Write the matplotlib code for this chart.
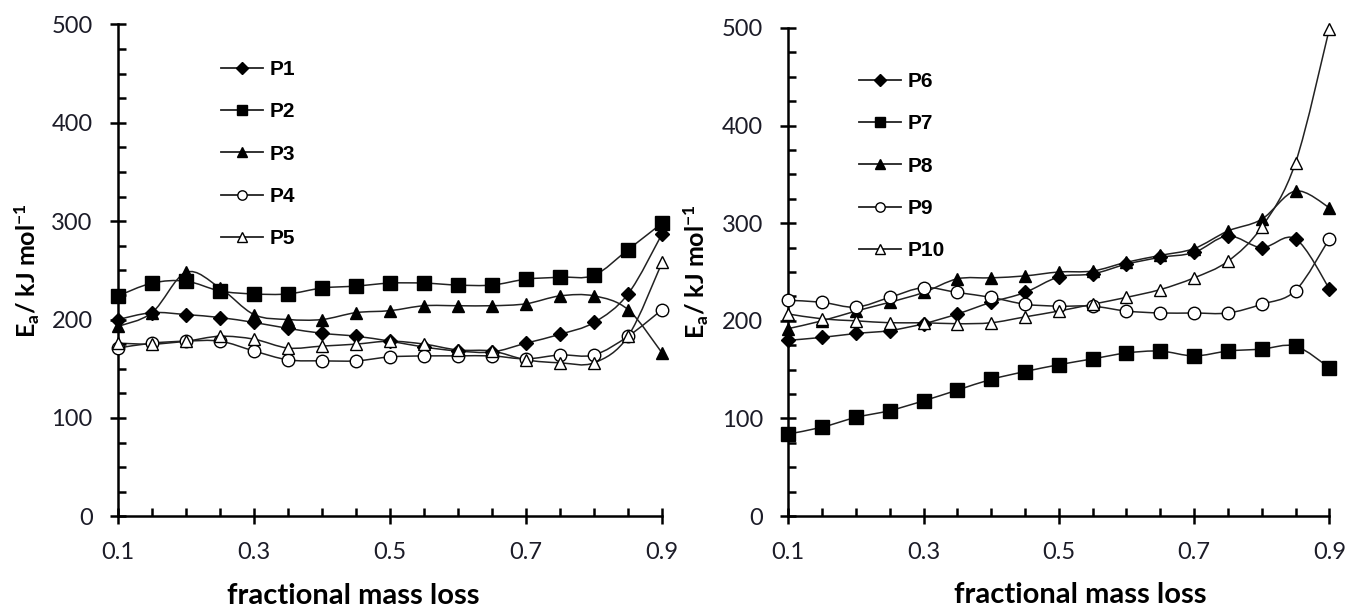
import numpy as np
import matplotlib
matplotlib.use("Agg")
import matplotlib.pyplot as plt
import matplotlib.ticker as mtick
from matplotlib.path import Path
from matplotlib.patches import PathPatch
from matplotlib.lines import Line2D

# fractional mass loss
alpha = [0.10, 0.15, 0.20, 0.25, 0.30, 0.35, 0.40, 0.45, 0.50,
         0.55, 0.60, 0.65, 0.70, 0.75, 0.80, 0.85, 0.90]

# Ea / kJ mol-1, left panel
p1 = [200, 207, 205, 202, 197, 191, 186, 183, 178, 172, 168, 167, 176, 185, 197, 226, 287]
p2 = [224, 237, 239, 229, 226, 226, 232, 234, 237, 237, 235, 235, 241, 243, 245, 271, 298]
p3 = [193, 207, 248, 232, 205, 200, 200, 207, 209, 214, 214, 214, 216, 224, 224, 210, 166]
p4 = [171, 176, 178, 178, 168, 159, 158, 158, 162, 163, 163, 163, 160, 164, 164, 183, 210]
p5 = [176, 175, 178, 183, 180, 171, 173, 175, 178, 175, 169, 168, 159, 156, 156, 183, 258]

# right panel
p6 = [180, 183, 187, 190, 197, 207, 219, 229, 245, 248, 258, 265, 270, 287, 275, 284, 233]
p7 = [84, 91, 101, 108, 118, 129, 140, 148, 155, 161, 167, 169, 164, 169, 171, 174, 152]
p8 = [192, 200, 210, 219, 229, 243, 244, 246, 250, 251, 260, 267, 274, 292, 304, 333, 316]
p9 = [221, 219, 214, 224, 234, 229, 224, 217, 215, 215, 210, 208, 208, 208, 217, 231, 284]
p10 = [207, 202, 200, 198, 198, 197, 198, 204, 210, 217, 224, 232, 244, 261, 296, 362, 499]

left_labels = ["P1", "P2", "P3", "P4", "P5"]
right_labels = ["P6", "P7", "P8", "P9", "P10"]

# marker, face colour, size
styles = [("D", "black", 7.5), ("s", "black", 9.5), ("^", "black", 9),
          ("o", "white", 9), ("^", "white", 9)]

line_col = "#222222"
tick_col = "#1c1c28"


def smooth_path(x, y, t=1 / 6):
    # excel style smoothed line as cubic bezier segments
    pts = np.column_stack([x, y]).astype(float)
    n = len(pts)
    verts = [pts[0]]
    codes = [Path.MOVETO]
    for i in range(n - 1):
        p0 = pts[i - 1] if i > 0 else pts[i]
        p1 = pts[i]
        p2 = pts[i + 1]
        p3 = pts[i + 2] if i + 2 < n else pts[i + 1]
        c1 = p1 + (p2 - p0) * t
        c2 = p2 - (p3 - p1) * t
        verts += [c1, c2, p2]
        codes += [Path.CURVE4] * 3
    return Path(verts, codes)


def draw_panel(ax, series, labels, leg_anchor, xlab_pos, ylab_x):
    handles = []
    for vals, (mk, fc, ms) in zip(series, styles):
        ax.add_patch(PathPatch(smooth_path(alpha, vals), fill=False,
                               ec=line_col, lw=1.1, clip_on=False))
        ax.plot(alpha, vals, linestyle="none", marker=mk, ms=ms, mfc=fc,
                mec="black", mew=1.0, clip_on=False, zorder=3)
        handles.append(Line2D([], [], color=line_col, lw=1.3, marker=mk,
                              ms=ms * 0.75, mfc=fc, mec="black", mew=1.0))

    ax.set_xlim(0.1, 0.9)
    ax.set_ylim(0, 500)
    ax.xaxis.set_major_locator(mtick.FixedLocator([0.1, 0.3, 0.5, 0.7, 0.9]))
    ax.xaxis.set_minor_locator(mtick.MultipleLocator(0.05))
    ax.xaxis.set_major_formatter(mtick.FormatStrFormatter("%.1f"))
    ax.yaxis.set_major_locator(mtick.MultipleLocator(100))
    ax.yaxis.set_minor_locator(mtick.MultipleLocator(25))

    for s in ["top", "right"]:
        ax.spines[s].set_visible(False)
    for s in ["left", "bottom"]:
        ax.spines[s].set_linewidth(1.8)
        ax.spines[s].set_color("black")

    ax.tick_params(which="major", direction="inout", length=11.5, width=1.8,
                   labelsize=17, labelcolor=tick_col)
    ax.tick_params(which="minor", direction="in", length=5.5, width=1.8)
    ax.tick_params(axis="y", which="major", pad=12.5)
    ax.tick_params(axis="x", which="major", pad=13)
    for lab in ax.get_xticklabels() + ax.get_yticklabels():
        lab.set_fontfamily("Lato")

    ax.set_xlabel("fractional mass loss", fontsize=21, fontweight="bold",
                  fontfamily="Lato", color="black")
    ax.xaxis.set_label_coords(xlab_pos, -0.135)
    ax.xaxis.label.set_va("top")
    ax.set_ylabel(r"E$_\mathbf{a}$/ kJ mol$^\mathbf{-1}$", fontsize=18,
                  fontweight="bold", fontfamily="Lato", color="black")
    ax.yaxis.set_label_coords(ylab_x, 0.5)

    ax.legend(handles, labels, loc="upper left", bbox_to_anchor=leg_anchor,
              bbox_transform=ax.figure.transFigure, frameon=False,
              prop={"family": "Liberation Sans", "weight": "bold", "size": 15},
              handlelength=2.0, handletextpad=0.35, labelspacing=1.12,
              borderaxespad=0, borderpad=0)


plt.rcParams["mathtext.fontset"] = "custom"
plt.rcParams["mathtext.rm"] = "Lato:bold"
plt.rcParams["mathtext.bf"] = "Lato:bold"
plt.rcParams["mathtext.it"] = "Lato:bold"

fig = plt.figure(figsize=(13.57, 6.14), dpi=100)
ax1 = fig.add_axes([0.0870, 0.1591, 0.4009, 0.8013])
ax2 = fig.add_axes([0.5809, 0.1596, 0.3987, 0.7948])

draw_panel(ax1, [p1, p2, p3, p4, p5], left_labels,
           (221 / 1357, 1 - 60 / 614), 0.433, -0.14)
draw_panel(ax2, [p6, p7, p8, p9, p10], right_labels,
           (859 / 1357, 1 - 72 / 614), 0.54, -0.143)

fig.savefig("out.png", dpi=100)
